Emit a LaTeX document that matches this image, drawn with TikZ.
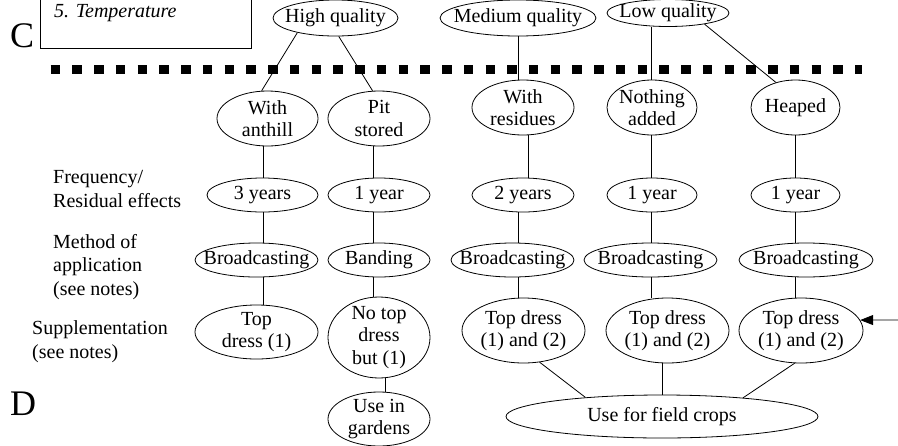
\documentclass[tikz,border=0pt]{standalone}
\usepackage{fontspec}
\setmainfont{Liberation Serif}
\usetikzlibrary{arrows.meta,shapes.geometric}
\begin{document}
\begin{tikzpicture}[x=1pt,y=-1pt,
  ov/.style={draw, ellipse, inner sep=0pt, line width=0.8pt},
  lbl/.style={align=center, inner sep=0pt, font=\fontsize{20}{22.5}\selectfont},
  side/.style={anchor=base west, inner sep=0pt, align=left, font=\fontsize{20}{23.5}\selectfont},
  big/.style={anchor=base west, inner sep=0pt, font=\fontsize{36}{40}\selectfont},
  conn/.style={line width=0.8pt},
  dots/.style={line width=9pt, dash pattern=on 9.5pt off 12.24pt}
]
\useasboundingbox (0,0) rectangle (898,445);

% top-left box and letters
\draw[conn] (40,-2) -- (40,48) -- (251,48) -- (251,-2);
\node[side, font=\fontsize{20}{23.5}\selectfont\itshape] (temp) at (54,17) {5. Temperature};
\node[big] (cC) at (10,47) {C};
\node[big] (cD) at (10,415) {D};

% side labels (anchor = baseline of last line)
\node[side] (lf) at (53,207) {Frequency/\\Residual effects};
\node[side] (lm) at (53,295) {Method of\\application\\(see notes)};
\node[side] (ls) at (32,358) {Supplementation\\(see notes)};

% dotted separator
\draw[dots] (50.7,69.5) -- (862,69.5);

% row 1
\node[ov, minimum width=125pt, minimum height=36pt, label={[lbl]center:High quality}] (hq) at (335.5,18) {};
\node[ov, minimum width=156pt, minimum height=36pt, label={[lbl]center:Medium quality}] (mq) at (518,18) {};
\node[ov, minimum width=122pt, minimum height=27pt, label={[lbl]center:Low quality}] (lq) at (668,13) {};

% row 2
\node[ov, minimum width=101pt, minimum height=55pt, label={[lbl]center:{With\\anthill}}] (wa) at (267.5,118.5) {};
\node[ov, minimum width=102pt, minimum height=55pt, label={[lbl]center:{Pit\\stored}}] (ps) at (379,118.5) {};
\node[ov, minimum width=102pt, minimum height=55pt, label={[lbl]center:{With\\residues}}] (wr) at (523,107.5) {};
\node[ov, minimum width=90pt, minimum height=55pt, label={[lbl]center:{Nothing\\added}}] (na) at (652,107.5) {};
\node[ov, minimum width=89pt, minimum height=55pt, label={[lbl]center:Heaped}] (hp) at (795.5,107.5) {};

% row 3
\node[ov, minimum width=111pt, minimum height=34pt, label={[lbl]center:3 years}] (ya) at (262.5,195) {};
\node[ov, minimum width=102pt, minimum height=34pt, label={[lbl]center:1 year}] (yp) at (379,195) {};
\node[ov, minimum width=102pt, minimum height=34pt, label={[lbl]center:2 years}] (yr) at (523,195) {};
\node[ov, minimum width=90pt, minimum height=34pt, label={[lbl]center:1 year}] (yn) at (652,195) {};
\node[ov, minimum width=89pt, minimum height=34pt, label={[lbl]center:1 year}] (yh) at (795.5,195) {};

% row 4
\node[ov, minimum width=123pt, minimum height=34pt, label={[lbl]center:Broadcasting}] (ma) at (256.5,260) {};
\node[ov, minimum width=102pt, minimum height=34pt, label={[lbl]center:Banding}] (mp) at (379,260) {};
\node[ov, minimum width=123pt, minimum height=34pt, label={[lbl]center:Broadcasting}] (mr) at (512.5,260) {};
\node[ov, minimum width=133pt, minimum height=34pt, label={[lbl]center:Broadcasting}] (mn) at (650.5,260) {};
\node[ov, minimum width=134pt, minimum height=34pt, label={[lbl]center:Broadcasting}] (mh) at (806,260) {};

% row 5
\node[ov, minimum width=123pt, minimum height=54pt, label={[lbl]center:{Top\\dress (1)}}] (sa) at (256.5,332) {};
\node[ov, minimum width=102pt, minimum height=81pt, label={[lbl]center:{No top\\dress\\but (1)}}] (sp) at (379,337.5) {};
\node[ov, minimum width=123pt, minimum height=65pt, label={[lbl]center:{Top dress\\(1) and (2)}}] (sr) at (523.5,330.5) {};
\node[ov, minimum width=123pt, minimum height=65pt, label={[lbl]center:{Top dress\\(1) and (2)}}] (sn) at (667.5,330.5) {};
\node[ov, minimum width=124pt, minimum height=65pt, label={[lbl]center:{Top dress\\(1) and (2)}}] (sh) at (801,330.5) {};

% row 6
\node[ov, minimum width=102pt, minimum height=54pt, label={[lbl]center:{Use in\\gardens}}] (ug) at (379,419) {};
\node[ov, minimum width=312pt, minimum height=43pt, label={[lbl]center:Use for field crops}] (uf) at (662,416.5) {};

% column guides
\coordinate (ca) at (263,0);
\coordinate (cp) at (373,0);
\coordinate (cg) at (385,0);
\coordinate (cr) at (518,0);
\coordinate (cw) at (528,0);
\coordinate (cn) at (651,0);
\coordinate (ch) at (795,0);
\coordinate (arrS) at (898,320);

% connectors
\draw[conn] (hq.201) -- (wa.102);
\draw[conn] (hq.280) -- (ps.103);
\draw[conn] (mq.south -| cr) -- (wr.north -| cr);
\draw[conn] (lq.south -| cn) -- (na.north -| cn);
\draw[conn] (lq.343) -- (hp.128);

\draw[conn] (wa.south -| ca) -- (ya.north -| ca);
\draw[conn] (ya.south -| ca) -- (ma.north -| ca);
\draw[conn] (ma.south -| ca) -- (sa.north -| ca);

\draw[conn] (ps.south -| cp) -- (yp.north -| cp);
\draw[conn] (yp.south -| cp) -- (mp.north -| cp);
\draw[conn] (mp.south -| cp) -- (sp.north -| cp);
\draw[conn] (sp.south -| cg) -- (ug.north -| cg);

\draw[conn] (wr.south -| cw) -- (yr.north -| cw);
\draw[conn] (yr.south -| cr) -- (mr.north -| cr);
\draw[conn] (mr.south -| cr) -- (sr.north -| cr);

\draw[conn] (na.south -| cn) -- (yn.north -| cn);
\draw[conn] (yn.south -| cn) -- (mn.north -| cn);
\draw[conn] (mn.south -| cn) -- (sn.north -| cn);

\draw[conn] (hp.south -| ch) -- (yh.north -| ch);
\draw[conn] (yh.south -| ch) -- (mh.north -| ch);
\draw[conn] (mh.south -| ch) -- (sh.north -| ch);

\draw[conn] (sr.297) -- (uf.166);
\draw[conn] (sn.south -| uf.north) -- (uf.north);
\draw[conn] (sh.259.5) -- (uf.13.4);

\draw[conn, -{Triangle[length=13pt,width=10pt]}] (arrS) -- (sh.10);
\end{tikzpicture}
\end{document}
